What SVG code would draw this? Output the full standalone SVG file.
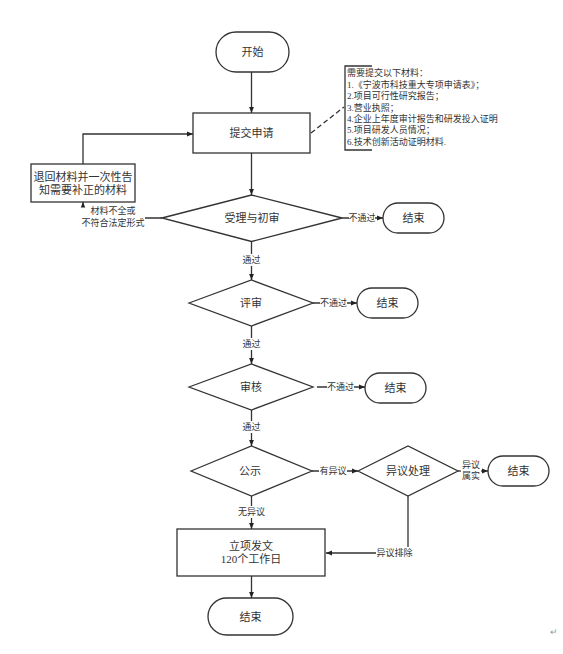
<svg xmlns="http://www.w3.org/2000/svg" width="563" height="654" viewBox="0 0 563 654">
<style>
.n{fill:#fff;stroke:#333;stroke-width:1.3}
.c{fill:none;stroke:#333;stroke-width:1.3}
.lb{fill:#fff;stroke:none}
text{font-family:"Liberation Serif","Noto Sans CJK SC",serif;fill:#333;text-anchor:middle;dominant-baseline:central}
.t11{font-size:11px}
.t9{font-size:9px}
.st{text-anchor:start}
</style>
<defs>
<marker id="a" viewBox="0 0 10 10" refX="10" refY="5" markerWidth="6" markerHeight="6" markerUnits="userSpaceOnUse" orient="auto"><path d="M0,1 L10,5 L0,9 z" fill="#222"/></marker>
</defs>
<rect width="563" height="654" fill="#fff"/>
<g id="connectors">
<path class="c" d="M251.5,72 V113" marker-end="url(#a)"/>
<path class="c" d="M251.5,153 V195" marker-end="url(#a)"/>
<path class="c" d="M251.5,241.5 V280" marker-end="url(#a)"/>
<path class="c" d="M251.5,326 V364" marker-end="url(#a)"/>
<path class="c" d="M251.5,410 V446" marker-end="url(#a)"/>
<path class="c" d="M251.5,496 V529" marker-end="url(#a)"/>
<path class="c" d="M251.5,576 V598" marker-end="url(#a)"/>
<path class="c" d="M342,218 H383" marker-end="url(#a)"/>
<path class="c" d="M313,303 H357" marker-end="url(#a)"/>
<path class="c" d="M317,387 H365" marker-end="url(#a)"/>
<path class="c" d="M312,471 H358" marker-end="url(#a)"/>
<path class="c" d="M458,471 H488" marker-end="url(#a)"/>
<path class="c" d="M408,496 V553 H326" marker-end="url(#a)"/>
<path class="c" d="M162,218 H83 V202" marker-end="url(#a)"/>
<path class="c" d="M83,164 V134 H193" marker-end="url(#a)"/>
<path class="c" d="M311,133 L344,107" stroke-dasharray="5,3"/>
<rect class="lb" x="240" y="254" width="23" height="12"/><text class="t9" x="251.5" y="260">通过</text>
<rect class="lb" x="240" y="338" width="23" height="12"/><text class="t9" x="251.5" y="344">通过</text>
<rect class="lb" x="240" y="421" width="23" height="12"/><text class="t9" x="251.5" y="427">通过</text>
<rect class="lb" x="236" y="506" width="31" height="12"/><text class="t9" x="251.5" y="512">无异议</text>
<rect class="lb" x="349" y="212" width="26" height="12"/><text class="t9" x="362" y="218">不通过</text>
<rect class="lb" x="320" y="297" width="27" height="12"/><text class="t9" x="333.5" y="303">不通过</text>
<rect class="lb" x="327" y="381" width="27" height="12"/><text class="t9" x="340.5" y="387">不通过</text>
<rect class="lb" x="319" y="465" width="28" height="12"/><text class="t9" x="333" y="471">有异议</text>
<rect class="lb" x="461" y="459" width="20" height="23"/><text class="t9" x="471" y="465">异议</text><text class="t9" x="471" y="476">属实</text>
<rect class="lb" x="376" y="547" width="37" height="12"/><text class="t9" x="394.5" y="553">异议排除</text>
<rect class="lb" x="80" y="207.5" width="65" height="22"/><text class="t9" x="113" y="211">材料不全或</text><text class="t9" x="113" y="223">不符合法定形式</text>
</g>
<g id="start"><rect class="n" x="216" y="32" width="73" height="40" rx="20"/><text class="t11" x="252.5" y="52">开始</text></g>
<g id="submit"><rect class="n" x="193" y="113" width="117" height="40"/><text class="t11" x="251.5" y="133">提交申请</text></g>
<g id="note">
<path class="c" d="M372,66 H345 V150 H372"/>
<text class="t9 st" x="347" y="73.3">需要提交以下材料：</text>
<text class="t9 st" x="347" y="84.7">1.《宁波市科技重大专项申请表》；</text>
<text class="t9 st" x="347" y="96.1">2.项目可行性研究报告；</text>
<text class="t9 st" x="347" y="107.5">3.营业执照；</text>
<text class="t9 st" x="347" y="118.9">4.企业上年度审计报告和研发投入证明</text>
<text class="t9 st" x="347" y="130.3">5.项目研发人员情况；</text>
<text class="t9 st" x="347" y="141.7">6.技术创新活动证明材料.</text>
</g>
<g id="return"><rect class="n" x="31" y="164" width="104" height="38"/><text class="t11" x="83" y="176.5">退回材料并一次性告</text><text class="t11" x="83" y="189.5">知需要补正的材料</text></g>
<g id="accept"><polygon class="n" points="162,218 251.5,195 342,218 251.5,241.5"/><text class="t11" x="252" y="218">受理与初审</text></g>
<g id="end1"><rect class="n" x="383" y="203" width="61" height="30" rx="15"/><text class="t11" x="413.5" y="218">结束</text></g>
<g id="review"><polygon class="n" points="189,303 251.5,280 313,303 251.5,326"/><text class="t11" x="251" y="303">评审</text></g>
<g id="end2"><rect class="n" x="357" y="288" width="61" height="30" rx="15"/><text class="t11" x="387.5" y="303">结束</text></g>
<g id="audit"><polygon class="n" points="189,387 251.5,364 313,387 251.5,410"/><text class="t11" x="251" y="387">审核</text></g>
<g id="end3"><rect class="n" x="365" y="373" width="61" height="30" rx="15"/><text class="t11" x="395.5" y="388">结束</text></g>
<g id="publicity"><polygon class="n" points="191,471 251.5,446 312,471 251.5,496"/><text class="t11" x="250" y="471">公示</text></g>
<g id="objection"><polygon class="n" points="358,471 408,446 458,471 408,496"/><text class="t11" x="408" y="471">异议处理</text></g>
<g id="end4"><rect class="n" x="488" y="456" width="61" height="30" rx="15"/><text class="t11" x="518.5" y="471">结束</text></g>
<g id="approve"><rect class="n" x="177" y="529" width="148" height="47"/><text class="t11" x="251" y="545.7">立项发文</text><text class="t11" x="251" y="558.5">120个工作日</text></g>
<g id="end5"><rect class="n" x="208" y="598" width="85" height="37" rx="18.5"/><text class="t11" x="250.5" y="616.5">结束</text></g>
<text x="554" y="632" style="font-size:9px;fill:#999">↵</text>
</svg>
